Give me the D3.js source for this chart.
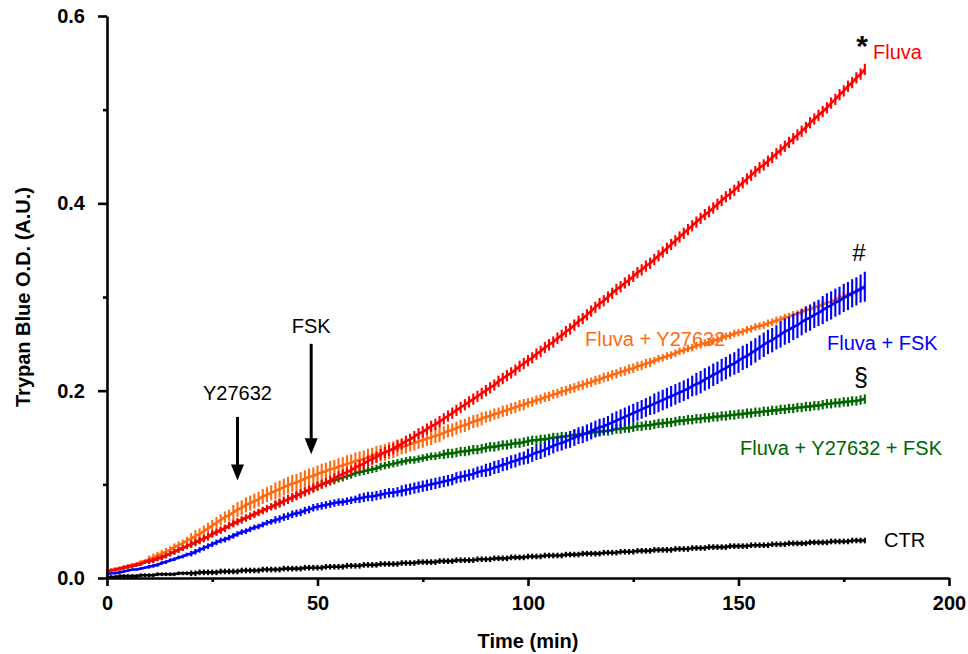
<!DOCTYPE html>
<html>
<head>
<meta charset="utf-8">
<script src="https://cdn.jsdelivr.net/npm/d3@7"></script>
<style>
  body { margin: 0; background: #fff; }
  svg { display: block; font-family: "Liberation Sans", Arial, sans-serif; }
</style>
</head>
<body>
<svg id="chart" width="968" height="654"></svg>
<script>
// time points, one reading per minute
const minutes = d3.range(0, 181);

// mean Trypan Blue O.D. per minute
const ctr = [
  0.001,0.001,0.001,0.002,0.002,0.002,0.002,0.002,0.003,0.003,
  0.003,0.003,0.004,0.004,0.004,0.004,0.004,0.005,0.005,0.005,
  0.005,0.005,0.006,0.006,0.006,0.006,0.006,0.007,0.007,0.007,
  0.007,0.007,0.008,0.008,0.008,0.008,0.008,0.009,0.009,0.009,
  0.009,0.009,0.010,0.010,0.010,0.010,0.010,0.011,0.011,0.011,
  0.011,0.011,0.012,0.012,0.012,0.012,0.012,0.013,0.013,0.013,
  0.013,0.014,0.014,0.014,0.014,0.015,0.015,0.015,0.015,0.015,
  0.016,0.016,0.016,0.016,0.017,0.017,0.017,0.017,0.017,0.018,
  0.018,0.018,0.018,0.019,0.019,0.019,0.019,0.019,0.020,0.020,
  0.020,0.020,0.021,0.021,0.021,0.021,0.022,0.022,0.022,0.022,
  0.023,0.023,0.023,0.023,0.024,0.024,0.024,0.024,0.024,0.025,
  0.025,0.025,0.025,0.026,0.026,0.026,0.026,0.026,0.027,0.027,
  0.027,0.027,0.028,0.028,0.028,0.028,0.029,0.029,0.029,0.029,
  0.030,0.030,0.030,0.030,0.030,0.031,0.031,0.031,0.031,0.032,
  0.032,0.032,0.032,0.033,0.033,0.033,0.033,0.033,0.034,0.034,
  0.034,0.034,0.034,0.035,0.035,0.035,0.035,0.035,0.036,0.036,
  0.036,0.036,0.037,0.037,0.037,0.037,0.037,0.038,0.038,0.038,
  0.038,0.038,0.039,0.039,0.039,0.039,0.039,0.040,0.040,0.040,
  0.040];

const fluva = [
  0.007,0.008,0.009,0.010,0.011,0.012,0.013,0.014,0.015,0.017,
  0.018,0.019,0.021,0.022,0.024,0.026,0.028,0.030,0.032,0.034,
  0.036,0.038,0.040,0.042,0.044,0.047,0.049,0.051,0.053,0.056,
  0.058,0.060,0.062,0.064,0.066,0.068,0.070,0.072,0.074,0.076,
  0.078,0.080,0.082,0.084,0.086,0.088,0.090,0.092,0.094,0.096,
  0.098,0.100,0.102,0.104,0.107,0.109,0.111,0.113,0.115,0.118,
  0.120,0.122,0.125,0.127,0.129,0.132,0.134,0.136,0.138,0.141,
  0.143,0.146,0.148,0.151,0.154,0.156,0.159,0.162,0.164,0.167,
  0.170,0.173,0.176,0.179,0.182,0.185,0.188,0.191,0.194,0.197,
  0.200,0.203,0.206,0.210,0.213,0.216,0.219,0.222,0.226,0.229,
  0.232,0.235,0.239,0.242,0.246,0.249,0.252,0.256,0.259,0.263,
  0.266,0.270,0.274,0.277,0.281,0.285,0.289,0.293,0.296,0.300,
  0.304,0.308,0.311,0.315,0.318,0.322,0.326,0.329,0.333,0.336,
  0.340,0.344,0.348,0.352,0.356,0.360,0.364,0.368,0.372,0.376,
  0.380,0.384,0.388,0.391,0.395,0.399,0.403,0.407,0.410,0.414,
  0.418,0.422,0.426,0.430,0.434,0.438,0.441,0.445,0.449,0.453,
  0.457,0.461,0.465,0.469,0.473,0.477,0.481,0.486,0.490,0.494,
  0.498,0.502,0.507,0.511,0.516,0.520,0.525,0.529,0.534,0.538,
  0.543];

const fluvaY = [
  0.007,0.008,0.009,0.010,0.012,0.013,0.014,0.015,0.017,0.018,
  0.020,0.022,0.024,0.026,0.028,0.030,0.033,0.035,0.037,0.040,
  0.042,0.045,0.047,0.050,0.053,0.056,0.059,0.062,0.065,0.067,
  0.070,0.073,0.075,0.078,0.080,0.082,0.084,0.087,0.089,0.091,
  0.093,0.095,0.097,0.099,0.101,0.102,0.104,0.106,0.108,0.109,
  0.111,0.113,0.114,0.116,0.117,0.119,0.120,0.122,0.123,0.125,
  0.126,0.127,0.129,0.130,0.132,0.133,0.134,0.136,0.137,0.139,
  0.140,0.141,0.143,0.144,0.146,0.147,0.149,0.150,0.152,0.153,
  0.155,0.157,0.158,0.160,0.162,0.163,0.165,0.167,0.168,0.170,
  0.172,0.173,0.175,0.176,0.178,0.179,0.181,0.182,0.184,0.185,
  0.187,0.188,0.190,0.191,0.193,0.194,0.196,0.197,0.199,0.200,
  0.202,0.203,0.205,0.206,0.208,0.209,0.211,0.212,0.214,0.215,
  0.217,0.218,0.220,0.221,0.223,0.224,0.226,0.227,0.229,0.230,
  0.232,0.234,0.235,0.237,0.238,0.240,0.242,0.243,0.245,0.246,
  0.248,0.249,0.251,0.252,0.253,0.255,0.256,0.258,0.259,0.261,
  0.262,0.263,0.265,0.266,0.268,0.269,0.270,0.272,0.273,0.275,
  0.276,0.278,0.279,0.281,0.282,0.284,0.286,0.287,0.289,0.290,
  0.292,0.294,0.295,0.297,0.299,0.301,0.303,0.304,0.306,0.308,
  0.310];

const fluvaF = [
  0.004,0.005,0.005,0.006,0.007,0.008,0.009,0.009,0.010,0.011,
  0.012,0.013,0.014,0.016,0.017,0.019,0.020,0.022,0.023,0.025,
  0.026,0.028,0.030,0.032,0.034,0.036,0.038,0.040,0.041,0.043,
  0.045,0.047,0.049,0.050,0.052,0.054,0.055,0.057,0.059,0.060,
  0.062,0.063,0.065,0.066,0.068,0.069,0.070,0.072,0.073,0.075,
  0.076,0.077,0.078,0.079,0.080,0.081,0.081,0.082,0.083,0.084,
  0.085,0.086,0.087,0.087,0.088,0.089,0.090,0.091,0.091,0.092,
  0.093,0.094,0.095,0.096,0.097,0.098,0.099,0.100,0.101,0.102,
  0.103,0.104,0.105,0.107,0.108,0.109,0.110,0.111,0.113,0.114,
  0.115,0.116,0.118,0.119,0.121,0.122,0.124,0.125,0.127,0.128,
  0.130,0.132,0.134,0.135,0.137,0.139,0.141,0.143,0.144,0.146,
  0.148,0.150,0.152,0.153,0.155,0.157,0.159,0.161,0.162,0.164,
  0.166,0.168,0.170,0.172,0.174,0.176,0.178,0.180,0.182,0.184,
  0.186,0.188,0.190,0.192,0.194,0.196,0.198,0.200,0.202,0.205,
  0.207,0.209,0.212,0.214,0.217,0.219,0.222,0.224,0.227,0.229,
  0.232,0.235,0.237,0.240,0.243,0.246,0.249,0.252,0.254,0.257,
  0.260,0.263,0.265,0.268,0.270,0.273,0.276,0.278,0.281,0.283,
  0.286,0.289,0.291,0.294,0.296,0.299,0.301,0.304,0.306,0.309,
  0.311];

const fluvaYF = [
  0.007,0.008,0.009,0.010,0.011,0.012,0.013,0.014,0.015,0.017,
  0.018,0.019,0.021,0.022,0.024,0.026,0.028,0.030,0.032,0.034,
  0.036,0.038,0.040,0.042,0.044,0.047,0.049,0.051,0.053,0.056,
  0.058,0.060,0.062,0.064,0.066,0.068,0.070,0.072,0.074,0.076,
  0.078,0.080,0.082,0.084,0.086,0.088,0.090,0.092,0.094,0.096,
  0.098,0.100,0.101,0.103,0.104,0.106,0.107,0.109,0.110,0.112,
  0.113,0.114,0.115,0.116,0.117,0.119,0.120,0.121,0.122,0.123,
  0.124,0.125,0.126,0.126,0.127,0.128,0.129,0.130,0.130,0.131,
  0.132,0.133,0.133,0.134,0.135,0.135,0.136,0.137,0.137,0.138,
  0.139,0.140,0.140,0.141,0.142,0.142,0.143,0.144,0.144,0.145,
  0.146,0.147,0.147,0.148,0.148,0.149,0.150,0.150,0.151,0.151,
  0.152,0.153,0.153,0.154,0.154,0.155,0.156,0.156,0.157,0.157,
  0.158,0.159,0.159,0.160,0.160,0.161,0.162,0.162,0.163,0.163,
  0.164,0.165,0.165,0.166,0.166,0.167,0.168,0.168,0.169,0.169,
  0.170,0.170,0.171,0.171,0.172,0.172,0.173,0.173,0.174,0.174,
  0.175,0.175,0.176,0.176,0.177,0.177,0.178,0.178,0.179,0.179,
  0.180,0.180,0.181,0.181,0.182,0.182,0.183,0.183,0.184,0.184,
  0.185,0.186,0.186,0.187,0.187,0.188,0.188,0.189,0.189,0.190,
  0.191];

// SEM for each 10-minute block (0-9, 10-19, ... 180)
const semCtr    = [0.002,0.002,0.003,0.003,0.003,0.003,0.003,0.003,0.003,0.003,0.003,0.003,0.003,0.003,0.003,0.003,0.003,0.003,0.003];
const semFluva  = [0.002,0.003,0.004,0.004,0.005,0.005,0.006,0.006,0.006,0.006,0.006,0.006,0.006,0.006,0.006,0.006,0.006,0.006,0.006];
const semFluvaY = [0.002,0.004,0.006,0.008,0.009,0.009,0.009,0.008,0.007,0.006,0.005,0.005,0.005,0.004,0.004,0.004,0.004,0.004,0.004];
const semFluvaF = [0.001,0.002,0.003,0.003,0.004,0.004,0.005,0.006,0.006,0.007,0.008,0.009,0.010,0.011,0.012,0.013,0.014,0.015,0.016];
const semFluvaYF= [0.002,0.003,0.003,0.003,0.004,0.004,0.004,0.004,0.005,0.005,0.005,0.005,0.005,0.005,0.005,0.005,0.005,0.005,0.005];

const xTicks = [0, 50, 100, 150, 200];
const xMinor = [25, 75, 125, 175];
const yTicks = [0, 0.2, 0.4, 0.6];
const yMinor = [0.1, 0.3, 0.5];

const series = [
  {name: "CTR", values: ctr, sem: semCtr, color: "#000000"},
  {name: "Fluva + Y27632 + FSK", values: fluvaYF, sem: semFluvaYF, color: "#006600"},
  {name: "Fluva + Y27632", values: fluvaY, sem: semFluvaY, color: "#ff6a10"},
  {name: "Fluva + FSK", values: fluvaF, sem: semFluvaF, color: "#0000ff"},
  {name: "Fluva", values: fluva, sem: semFluva, color: "#ff0000"}
];

const width = 968, height = 654;
const margin = {top: 16, right: 19, bottom: 76, left: 107};

const x = d3.scaleLinear([0, 200], [margin.left, width - margin.right]);
const y = d3.scaleLinear([0, 0.6], [height - margin.bottom, margin.top]);

const svg = d3.select("#chart");

// series: error bars then mean line
const g = svg.append("g");
series.forEach(s => {
  const pts = minutes.map((t, i) => ({t, v: s.values[i], e: s.sem[Math.floor(t / 10)]}));
  const sg = g.append("g");
  sg.append("g")
      .attr("stroke", s.color)
      .attr("stroke-width", 2.1)
    .selectAll("line")
    .data(pts)
    .join("line")
      .attr("x1", d => x(d.t))
      .attr("x2", d => x(d.t))
      .attr("y1", d => y(d.v - d.e))
      .attr("y2", d => y(d.v + d.e));
  sg.append("path")
      .datum(pts)
      .attr("fill", "none")
      .attr("stroke", s.color)
      .attr("stroke-width", 2.6)
      .attr("d", d3.line().x(d => x(d.t)).y(d => y(d.v)));
});

// axes
svg.append("g")
    .attr("transform", `translate(0,${y(0)})`)
    .call(d3.axisBottom(x).tickValues(xTicks).tickSize(8).tickSizeOuter(0).tickPadding(10).tickFormat(d3.format("d")));
svg.append("g")
    .attr("transform", `translate(0,${y(0)})`)
    .call(d3.axisBottom(x).tickValues(xMinor).tickSize(4).tickFormat(""))
    .call(g => g.select(".domain").remove());

svg.append("g")
    .attr("transform", `translate(${x(0)},0)`)
    .call(d3.axisLeft(y).tickValues(yTicks).tickSize(9).tickSizeOuter(0).tickPadding(13).tickFormat(d3.format(".1f")));
svg.append("g")
    .attr("transform", `translate(${x(0)},0)`)
    .call(d3.axisLeft(y).tickValues(yMinor).tickSize(4).tickFormat(""))
    .call(g => g.select(".domain").remove());

svg.selectAll(".tick line, .domain")
    .attr("stroke", "#000")
    .attr("stroke-width", 2.6);
svg.selectAll(".tick text")
    .attr("font-family", "Liberation Sans, Arial, sans-serif")
    .attr("font-size", 20)
    .attr("font-weight", "bold")
    .attr("fill", "#000");

svg.append("text")
    .attr("x", x(100))
    .attr("y", 648)
    .attr("text-anchor", "middle")
    .attr("font-size", 20)
    .attr("font-weight", "bold")
    .text("Time (min)");

svg.append("text")
    .attr("transform", `translate(30,${y(0.3)}) rotate(-90)`)
    .attr("text-anchor", "middle")
    .attr("font-size", 20)
    .attr("font-weight", "bold")
    .text("Trypan Blue O.D. (A.U.)");

// treatment arrows
const arrows = [
  {label: "Y27632", t: 31, top: 0.172, tip: 0.104, textY: 400},
  {label: "FSK", t: 48.5, top: 0.250, tip: 0.132, textY: 333}
];
arrows.forEach(a => {
  const ax = x(a.t), y0 = y(a.top), y1 = y(a.tip);
  svg.append("line")
      .attr("x1", ax).attr("x2", ax)
      .attr("y1", y0).attr("y2", y1 - 14)
      .attr("stroke", "#000").attr("stroke-width", 3);
  svg.append("path")
      .attr("d", `M${ax - 6.5},${y1 - 16}L${ax + 6.5},${y1 - 16}L${ax},${y1}Z`)
      .attr("fill", "#000");
  svg.append("text")
      .attr("x", ax).attr("y", a.textY)
      .attr("text-anchor", "middle")
      .attr("font-size", 20)
      .text(a.label);
});

// series labels and significance marks
const labels = [
  {text: "Fluva", x: 873, y: 59, color: "#ff0000"},
  {text: "Fluva + Y27632", x: 585, y: 346, color: "#ff6a10"},
  {text: "Fluva + FSK", x: 827, y: 350, color: "#0000ff"},
  {text: "Fluva + Y27632 + FSK", x: 740, y: 455, color: "#006600"},
  {text: "CTR", x: 884, y: 547, color: "#000000"}
];
svg.append("g")
  .selectAll("text")
  .data(labels)
  .join("text")
    .attr("x", d => d.x)
    .attr("y", d => d.y)
    .attr("fill", d => d.color)
    .attr("font-size", 20)
    .text(d => d.text);

const marks = [
  {text: "*", x: 862, y: 56, size: 30, weight: "bold"},
  {text: "#", x: 859, y: 261, size: 24, weight: "normal"},
  {text: "§", x: 861, y: 386, size: 25, weight: "normal"}
];
svg.append("g")
  .selectAll("text")
  .data(marks)
  .join("text")
    .attr("x", d => d.x)
    .attr("y", d => d.y)
    .attr("text-anchor", "middle")
    .attr("font-size", d => d.size)
    .attr("font-weight", d => d.weight)
    .text(d => d.text);
</script>
</body>
</html>
